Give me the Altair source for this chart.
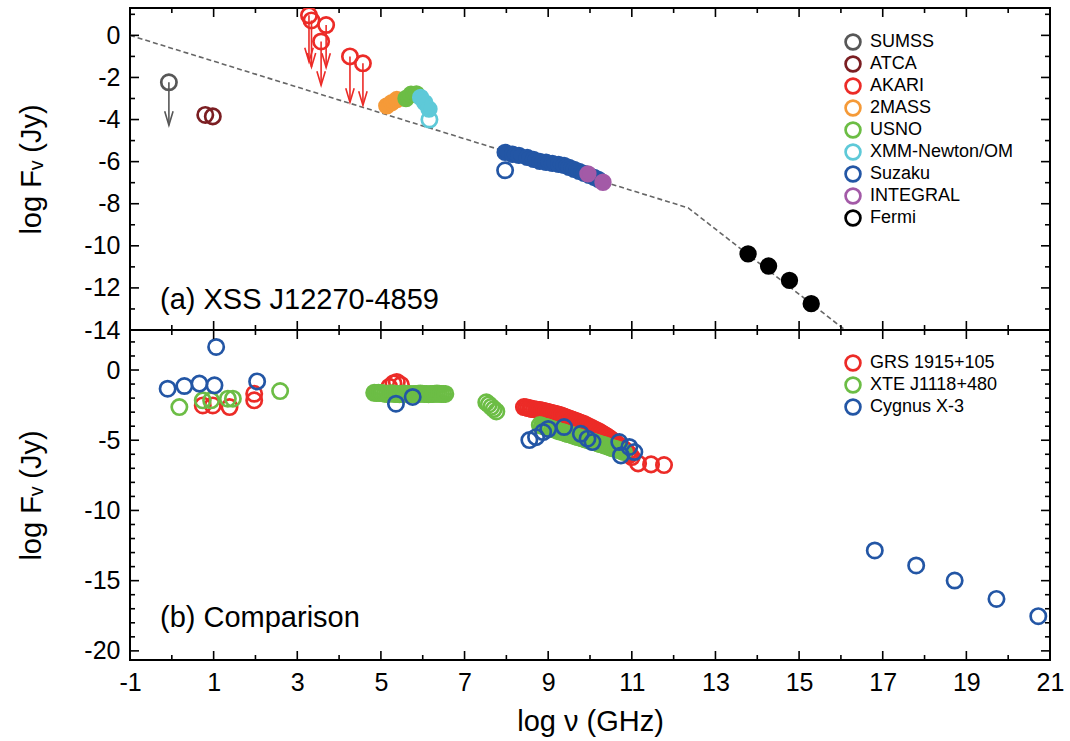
import altair as alt
import pandas as pd

FONT = "Liberation Sans"
W, H_TOP, H_BOT = 920, 322, 330
X_DOMAIN = [-1, 21]
TOP_DOMAIN = [-14, 1.3]
BOT_DOMAIN = [-20.65, 2.85]

# ---------------- (a) XSS J12270-4859 ----------------
instruments = ["SUMSS", "ATCA", "AKARI", "2MASS", "USNO", "XMM-Newton/OM",
               "Suzaku", "INTEGRAL", "Fermi"]
inst_colors = ["#575757", "#7b1e22", "#ec2b27", "#f59a38", "#6cbd45",
               "#5ec9d8", "#2356a5", "#a35aa7", "#000000"]

sumss_nu = [-0.07]
sumss_f = [-2.23]
sumss_lim = [-4.27]

atca_nu = [0.80, 0.98]
atca_f = [-3.78, -3.85]

akari_nu = [3.28, 3.34, 3.69, 3.57, 4.26, 4.57]
akari_f = [0.95, 0.71, 0.49, -0.29, -1.00, -1.33]
akari_lim = [-1.25, -1.50, -1.52, -2.37, -3.18, -3.32]

tmass_nu = [5.14, 5.26, 5.38]
tmass_f = [-3.35, -3.20, -3.05]

usno_nu = [5.60, 5.72, 5.85]
usno_f = [-3.00, -2.80, -2.78]

xmm_nu = [5.95, 6.05, 6.15, 6.16]
xmm_f = [-2.95, -3.20, -3.50, -4.00]
xmm_solid = [True, True, True, False]

suzaku_nu = [7.97, 8.15, 8.30, 8.50, 8.65, 8.80, 8.95, 9.10, 9.25, 9.38,
             9.50, 9.62, 9.74, 9.86, 9.98, 10.10, 10.20, 7.97]
suzaku_f = [-5.56, -5.65, -5.70, -5.80, -5.89, -5.99, -6.03, -6.08, -6.13, -6.18,
            -6.27, -6.37, -6.46, -6.56, -6.65, -6.75, -6.84, -6.41]
suzaku_solid = [True, True, True, True, True, True, True, True, True, True,
                True, True, True, True, True, True, True, False]

integral_nu = [9.95, 10.31]
integral_f = [-6.58, -6.98]

fermi_nu = [13.78, 14.27, 14.77, 15.29]
fermi_f = [-10.38, -10.96, -11.64, -12.75]

# broken power-law guide
model_nu = [-1.0, 12.35, 16.1]
model_f = [0.0, -8.2, -14.0]

# ---------------- (b) comparison sources ----------------
sources = ["GRS 1915+105", "XTE J1118+480", "Cygnus X-3"]
src_colors = ["#ec2b27", "#6cbd45", "#2356a5"]

grs_nu = [0.74, 0.98, 1.38, 1.97, 1.97,
          5.20, 5.30, 5.38, 5.48,
          8.42, 8.47, 8.52, 8.57, 8.61, 8.66, 8.71, 8.75, 8.80, 8.85,
          8.90, 8.95, 9.00, 9.04, 9.09, 9.14, 9.19, 9.23, 9.28, 9.33,
          9.38, 9.42, 9.47, 9.52, 9.57, 9.62, 9.67, 9.71, 9.76, 9.81,
          9.86, 9.90, 9.95, 10.00, 10.05, 10.09, 10.14, 10.19, 10.24, 10.28,
          10.33, 10.38, 10.43, 10.48, 10.53, 10.57, 10.62, 10.67, 10.72, 10.76,
          10.81, 10.86, 10.91, 10.95, 11.00,
          11.15, 11.46, 11.77]
grs_f = [-2.52, -2.52, -2.64, -1.69, -2.16,
         -1.20, -0.95, -0.85, -1.05,
         -2.64, -2.66, -2.71, -2.73, -2.78, -2.79, -2.81, -2.84, -2.85, -2.89,
         -2.92, -2.96, -2.99, -3.02, -3.06, -3.10, -3.13, -3.17, -3.21, -3.26,
         -3.31, -3.36, -3.42, -3.47, -3.53, -3.58, -3.63, -3.69, -3.74, -3.80,
         -3.85, -3.92, -3.99, -4.06, -4.13, -4.20, -4.27, -4.35, -4.42, -4.50,
         -4.59, -4.68, -4.77, -4.88, -4.99, -5.10, -5.20, -5.31, -5.41, -5.52,
         -5.63, -5.77, -5.91, -6.05, -6.20,
         -6.65, -6.72, -6.77]

xte_nu = [0.18, 0.74, 0.94, 1.34, 1.46, 2.59,
          4.84, 4.89, 4.94, 4.99, 5.04, 5.09, 5.14, 5.19, 5.24, 5.29,
          5.34, 5.39, 5.44, 5.49, 5.54, 5.59, 5.64, 5.69, 5.74, 5.79,
          5.84, 5.89, 5.94, 5.99, 6.04, 6.09, 6.14, 6.19, 6.24, 6.29,
          6.34, 6.39, 6.44, 6.49, 6.54,
          7.52, 7.58, 7.64, 7.70, 7.76,
          8.80, 8.85, 8.90, 8.95, 9.00, 9.04, 9.09, 9.14, 9.19, 9.23,
          9.28, 9.33, 9.38, 9.42, 9.47, 9.52, 9.57, 9.62, 9.67, 9.71,
          9.76, 9.81, 9.86, 9.90, 9.95, 10.00, 10.05, 10.09, 10.14, 10.19,
          10.24, 10.28, 10.33, 10.38, 10.43, 10.48, 10.53, 10.57, 10.62, 10.67,
          10.72, 10.76, 10.81]
xte_f = [-2.64, -2.16, -2.16, -2.04, -2.04, -1.50,
         -1.62, -1.63, -1.62, -1.64, -1.65, -1.68, -1.70, -1.69, -1.66, -1.68,
         -1.70, -1.71, -1.72, -1.70, -1.68, -1.69, -1.70, -1.71, -1.72, -1.71,
         -1.70, -1.69, -1.68, -1.69, -1.70, -1.71, -1.72, -1.71, -1.70, -1.69,
         -1.68, -1.69, -1.70, -1.70, -1.70,
         -2.30, -2.45, -2.62, -2.78, -2.95,
         -3.92, -3.97, -4.02, -4.06, -4.10, -4.15, -4.20, -4.23, -4.27, -4.33,
         -4.38, -4.41, -4.45, -4.51, -4.56, -4.59, -4.63, -4.69, -4.74, -4.77,
         -4.81, -4.86, -4.91, -4.95, -4.99, -5.04, -5.09, -5.12, -5.16, -5.22,
         -5.27, -5.30, -5.34, -5.40, -5.45, -5.51, -5.56, -5.59, -5.63, -5.68,
         -5.73, -5.78, -5.84]

cyg_nu = [-0.10, 0.30, 0.66, 1.02, 1.06, 2.04,
          5.36, 5.76,
          8.55, 8.71, 8.88, 9.00, 9.38, 9.78, 9.94, 10.06, 10.70, 10.94, 11.06, 10.74,
          16.81, 17.80, 18.72, 19.72, 20.72]
cyg_f = [-1.33, -1.14, -0.97, -1.09, 1.64, -0.81,
         -2.40, -1.92,
         -4.99, -4.78, -4.42, -4.20, -4.06, -4.54, -4.89, -5.13, -5.13, -5.48, -5.84, -6.08,
         -12.85, -13.92, -14.99, -16.30, -17.53]

# ---------------- axis ticks ----------------
x_major = list(range(-1, 22, 2))
x_minor = list(range(0, 21, 2))
top_major = list(range(0, -15, -2))
top_minor = [1] + list(range(-1, -14, -2))
bot_major = [0, -5, -10, -15, -20]
bot_minor = [v for v in range(-20, 3) if v % 5 != 0]

MAJOR_LEN, MINOR_LEN = 9, 5
ARROW_HEAD = "M-0.3,-1L0,0L0.3,-1"


def axis_style(**kw):
    return alt.Axis(ticks=False, domain=False, grid=False, labelFlush=False,
                    labelFont=FONT, titleFont=FONT, labelFontSize=25, titleFontSize=29,
                    titleFontWeight="normal", labelColor="black", titleColor="black",
                    labelExpr="'' + datum.value", **kw)


xscale = alt.Scale(domain=X_DOMAIN, nice=False, zero=False)
top_yscale = alt.Scale(domain=TOP_DOMAIN, nice=False, zero=False)
bot_yscale = alt.Scale(domain=BOT_DOMAIN, nice=False, zero=False)

y_axis_top = axis_style(values=top_major, labelPadding=10, titlePadding=37)
y_axis_bot = axis_style(values=bot_major, labelPadding=10, titlePadding=37)
x_axis_bot = axis_style(values=x_major, labelPadding=10, titlePadding=12)
Y_TITLE = "log Fᵥ (Jy)"


def x_top(field="v"):
    return alt.X(f"{field}:Q", scale=xscale, axis=None)


def x_bot(field="v"):
    return alt.X(f"{field}:Q", scale=xscale, axis=x_axis_bot, title="log ν (GHz)")


def y_top(field="f"):
    return alt.Y(f"{field}:Q", scale=top_yscale, axis=y_axis_top, title=Y_TITLE)


def y_bot(field="f"):
    return alt.Y(f"{field}:Q", scale=bot_yscale, axis=y_axis_bot, title=Y_TITLE)


def frame_ticks(xenc, height):
    layers = []
    for vals, ln in ((x_major, MAJOR_LEN), (x_minor, MINOR_LEN)):
        df = pd.DataFrame({"v": vals})
        for y0, y1 in ((height, height - ln), (0, ln)):
            layers.append(alt.Chart(df).mark_rule(color="black", strokeWidth=1.6).encode(
                x=xenc(), y=alt.value(y0), y2=alt.value(y1)))
    return layers


def side_ticks(yenc, major, minor):
    layers = []
    for vals, ln in ((major, MAJOR_LEN), (minor, MINOR_LEN)):
        df = pd.DataFrame({"f": vals})
        for x0, x1 in ((0, ln), (W, W - ln)):
            layers.append(alt.Chart(df).mark_rule(color="black", strokeWidth=1.6).encode(
                y=yenc(), x=alt.value(x0), x2=alt.value(x1)))
    return layers


def legend(y):
    return alt.Legend(title=None, orient="none", legendX=714, legendY=y, padding=0,
                      rowPadding=-4, labelFont=FONT, labelFontSize=18, labelColor="black",
                      labelOffset=8, symbolType="circle", symbolSize=220,
                      symbolStrokeWidth=2.7, symbolFillColor="transparent")


def panel_label(text, y):
    return alt.Chart(pd.DataFrame({"t": [text]})).mark_text(
        font=FONT, fontSize=29, align="left", baseline="middle", color="black"
    ).encode(text="t:N", x=alt.value(30), y=alt.value(y))


# ---- top panel data table ----
color_of = dict(zip(instruments, inst_colors))
rows = []


def add(inst, nus, fs, solid):
    for n, f, s in zip(nus, fs, solid):
        rows.append({"inst": inst, "v": n, "f": f,
                     "fc": color_of[inst] if s else "transparent", "solid": s})


add("SUMSS", sumss_nu, sumss_f, [False] * len(sumss_nu))
add("ATCA", atca_nu, atca_f, [False] * len(atca_nu))
add("AKARI", akari_nu, akari_f, [False] * len(akari_nu))
add("2MASS", tmass_nu, tmass_f, [True] * len(tmass_nu))
add("USNO", usno_nu, usno_f, [True] * len(usno_nu))
add("XMM-Newton/OM", xmm_nu, xmm_f, xmm_solid)
add("Suzaku", suzaku_nu, suzaku_f, suzaku_solid)
add("INTEGRAL", integral_nu, integral_f, [True] * len(integral_nu))
add("Fermi", fermi_nu, fermi_f, [True] * len(fermi_nu))
top_df = pd.DataFrame(rows)
top_df["order"] = range(len(top_df))

model = alt.Chart(pd.DataFrame({"v": model_nu, "f": model_f})).mark_line(
    color="#666666", strokeWidth=1.6, strokeDash=[5, 3], clip=True
).encode(x=x_top(), y=y_top())


def arrows(nus, fs, lims, color):
    df = pd.DataFrame({"v": nus, "f": fs, "lim": lims})
    shaft = alt.Chart(df).mark_rule(color=color, strokeWidth=1.6, clip=True).encode(
        x=x_top(), y=y_top(), y2=alt.Y2("lim:Q"))
    head = alt.Chart(df).mark_point(shape=ARROW_HEAD, size=784, filled=False, color=color,
                                    strokeWidth=1.6, opacity=1).encode(
        x=x_top(), y=y_top("lim"))
    return [shaft, head]


top_points = alt.Chart(top_df).mark_point(
    shape="circle", strokeWidth=2.7, opacity=1, clip=True
).encode(
    x=x_top(), y=y_top(),
    stroke=alt.Stroke("inst:N", scale=alt.Scale(domain=instruments, range=inst_colors),
                      legend=legend(25)),
    fill=alt.Fill("fc:N", scale=None),
    size=alt.condition("datum.solid", alt.value(215), alt.value(235)),
    order=alt.Order("order:Q"),
)

top = alt.layer(
    model,
    *arrows(sumss_nu, sumss_f, sumss_lim, "#575757"),
    *arrows(akari_nu, akari_f, akari_lim, "#ec2b27"),
    top_points,
    *frame_ticks(x_top, H_TOP),
    *side_ticks(y_top, top_major, top_minor),
    panel_label("(a) XSS J12270-4859", 292),
).properties(width=W, height=H_TOP)

# ---- bottom panel ----
brows = []
for name, nus, fs in ((sources[0], grs_nu, grs_f), (sources[1], xte_nu, xte_f),
                      (sources[2], cyg_nu, cyg_f)):
    for n, f in zip(nus, fs):
        brows.append({"src": name, "v": n, "f": f})
bot_df = pd.DataFrame(brows)
bot_df["order"] = range(len(bot_df))

bot_points = alt.Chart(bot_df).mark_point(
    shape="circle", size=235, strokeWidth=2.7, filled=False, opacity=1, clip=True
).encode(
    x=x_bot(), y=y_bot(),
    stroke=alt.Stroke("src:N", scale=alt.Scale(domain=sources, range=src_colors),
                      legend=legend(24)),
    order=alt.Order("order:Q"),
)

bottom = alt.layer(
    bot_points,
    *frame_ticks(x_bot, H_BOT),
    *side_ticks(y_bot, bot_major, bot_minor),
    panel_label("(b) Comparison", 288),
).properties(width=W, height=H_BOT)

chart = alt.vconcat(top, bottom, spacing=0, bounds="flush").resolve_scale(
    x="independent", y="independent", stroke="independent"
).resolve_legend(stroke="independent").properties(
    padding={"left": 16, "top": 6, "right": 5, "bottom": 5},
    background="white",
).configure_view(stroke="black", strokeWidth=2)

chart.save("out.html", embed_options={"renderer": "svg", "actions": False})
